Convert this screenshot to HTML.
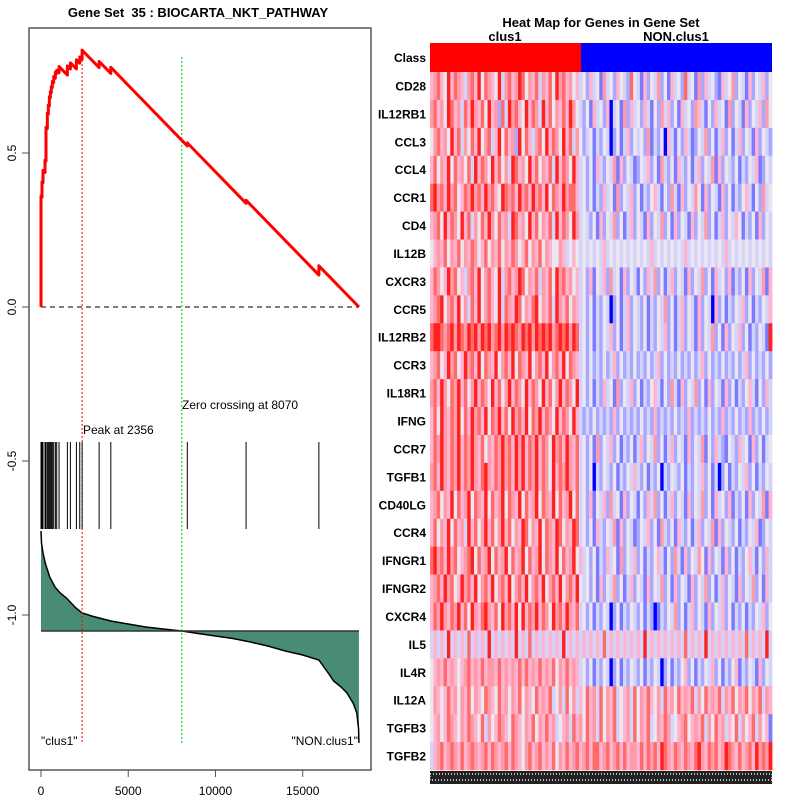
<!DOCTYPE html>
<html><head><meta charset="utf-8">
<style>
body{margin:0;background:#fff;}
svg{display:block;font-family:"Liberation Sans",sans-serif;}
text{white-space:pre;}
</style></head>
<body>
<svg id="chart" width="800" height="800" viewBox="0 0 800 800" xmlns="http://www.w3.org/2000/svg">
<rect width="800" height="800" fill="#fff"/>
<text x="198" y="17" font-size="13" font-weight="bold" text-anchor="middle" xml:space="preserve">Gene Set  35 : BIOCARTA_NKT_PATHWAY</text>
<text x="601" y="27" font-size="13" font-weight="bold" text-anchor="middle">Heat Map for Genes in Gene Set</text>
<text x="505" y="41" font-size="13" font-weight="bold" text-anchor="middle">clus1</text>
<text x="676" y="41" font-size="13" font-weight="bold" text-anchor="middle">NON.clus1</text>
<g id="left"></g>
<g id="heat"></g>
</svg>
<script>
// ---- data ----
const hitRanks = [0,57,115,230,287,364,421,479,536,593,651,727,823,900,1034,1512,1685,2029,2220,2356,3331,4001,8385,11753,15926];
const hitGains = [0.36,0.05,0.04,0.04,0.11,0.05,0.03,0.03,0.02,0.02,0.02,0.02,0.02,0.01,0.02,0.03,0.02,0.03,0.02,0.03,0.02,0.02,0.01,0.01,0.03];
const totalGenes = 18223;
const peakRank = 2356;
const zeroCross = 8070;
const metricRanks = [0,30,115,250,500,800,1100,1455,2000,2356,3000,4000,5000,6000,7000,8070,9000,10000,11000,12000,13000,14000,15000,15926,16500,16770,17200,17537,17900,18100,18200,18223];
const metricValues = [2.0,1.75,1.56,1.35,1.08,0.88,0.76,0.66,0.46,0.36,0.29,0.2,0.14,0.08,0.04,0,-0.05,-0.1,-0.15,-0.22,-0.3,-0.4,-0.48,-0.58,-0.86,-1.0,-1.12,-1.24,-1.45,-1.64,-1.95,-2.24];
const xTicks = [0,5000,10000,15000];
const yTicks = [0.5,0.0,-0.5,-1.0];
const yTickLabels = ["0.5","0.0","-0.5","-1.0"];
const genes = ["CD28","IL12RB1","CCL3","CCL4","CCR1","CD4","IL12B","CXCR3","CCR5","IL12RB2","CCR3","IL18R1","IFNG","CCR7","TGFB1","CD40LG","CCR4","IFNGR1","IFNGR2","CXCR4","IL5","IL4R","IL12A","TGFB3","TGFB2"];
const heatRows = [
"56754857653675847654836756874657365748675645342534163425432743152436241534273416253421534624315243524",
"67564875637586574856273867548576385746575864324153425034162534253142635241534265314253416243152435264",
"46756485736475846735847562847536748576485736423413243024135243426132405314253124362413524135243152432",
"57465847564738576485746387564857465738576485342415324361524312435241632415324135243615243241324351243",
"78675867457686758675487675867586758476586775342413253416243524132453142631524364152431524132453142634",
"56748576485736475864756387564857465738576486343241524362413524315243624152431524362413524354132415243",
"45657465746576457465746576457465746544653454343434353434343434343534343434353434343434353434343434343",
"57645867453675846754836756874657365748675645342514352634152431425362413524315243624153425132415243615",
"56784675846375846754837658746578465738657465342413243024135243241324362413524315243052413243524132435",
"78876786876878687867868787687868787867878687342413243524135243241324352413524315243624152435241324318",
"56745867458675847658467584765846758467584765342423242352423242324235242324232423524232423242352423242",
"67586476857468576485746857648576485746857648342413253416243524132453142631524362415243152413245314253",
"57486576847586758476857486758476857648576485323242323252423232423252323242325232324232523242325232423",
"57686576857686574657686758685768576486758657342416243524132413524362413524315243614253214325341524134",
"67586576857686578657686758685768576485768657342403243241324353241324032432413243524130241324352413243",
"56746584756847658475684765847568476584756847342514352634152431425362413524315243624153425132415243615",
"57465847563857468574685746587465847658746587342415324361524312435241632415324135243615243241324351243",
"78675867456784756847568475684756847658475684534241325341624352413245314263152436415243152413245314253",
"56758674586758467584675846758467584675846758434241524362413524315243624152431524362413524315243624153",
"57686576857486578657486758485768576486758657342413243024132432413201324362413524315243524132413243524",
"35353835353735353835353538353735353535383535353535373535353535383535353535373535383535353535373535383",
"45657565456756575665756565757565756574657565342413243024132432413243024132452413243524132451324315243",
"46545756465746547654756465746547565734637463547563746573456374657546375647565736475657365746574657365",
"45645765465765473645765476546574657563456375647563746573456374657346576345674565736475635473645736451",
"35675676575676567576567576546756756574657567567577567567575665757675876576576578657675687657567586768"
];
const levelColors = ["#0000ff","#7a7aff","#a8a8ff","#d4d4fa","#ece6f0","#ffb3cf","#ff9aa8","#ff6a6a","#ff2020"];

// ---- helpers ----
const NS = "http://www.w3.org/2000/svg";
function mk(tag, attrs, parent){const e=document.createElementNS(NS,tag);for(const k in attrs)e.setAttribute(k,attrs[k]);parent.appendChild(e);return e;}
const X = r => 41 + r * 0.017448;
const Y = v => 307 - v * 308;
const M = m => 631 - m * 50;

const L = document.getElementById('left');
const frame = mk('rect',{x:29,y:28,width:342,height:742,fill:'none',stroke:'#555','stroke-width':1.5},L);



let d = "M"+X(metricRanks[0])+","+M(0);
metricRanks.forEach((r,i)=>{d+=" L"+X(r)+","+M(metricValues[i]);});
d += " L"+X(metricRanks[metricRanks.length-1])+","+M(0)+" Z";
const area = mk('path',{d:d,fill:'#478c73',stroke:'none'},L);


let d2 = "M"+X(metricRanks[0])+","+M(metricValues[0]);
metricRanks.forEach((r,i)=>{d2+=" L"+X(r)+","+M(metricValues[i]);});
const mline = mk('path',{d:d2,fill:'none',stroke:'#000','stroke-width':1.5},L);


const base = mk('line',{x1:X(0),x2:X(totalGenes),y1:M(0),y2:M(0),stroke:'#333','stroke-width':1.5},L);



const zl = mk('line',{x1:X(0),x2:X(totalGenes),y1:Y(0),y2:Y(0),stroke:'#555','stroke-width':1.5,'stroke-dasharray':'5,4'},L);



const pk = mk('line',{x1:X(peakRank),x2:X(peakRank),y1:56,y2:744,stroke:'#ff0000','stroke-width':1,'stroke-dasharray':'2,2'},L);


const zc = mk('line',{x1:X(zeroCross),x2:X(zeroCross),y1:57,y2:744,stroke:'#00cc00','stroke-width':1,'stroke-dasharray':'2,2'},L);



hitRanks.forEach(r=>{
  const h = mk('line',{x1:X(r),x2:X(r),y1:442,y2:529,stroke:'#000','stroke-width':1},L);
  
  
});

const gainSum = hitGains.reduce((a,b)=>a+b,0);
const slope = gainSum / (totalGenes - hitRanks.length);
let es = 0, prev = 0, pts = [[X(0),Y(0)]];
hitRanks.forEach((r,i)=>{
  es -= slope * Math.max(0, r - prev);
  pts.push([X(r),Y(es)]);
  es += hitGains[i];
  pts.push([X(r),Y(es)]);
  prev = r + 1;
});
es -= slope * (totalGenes - prev);
pts.push([X(totalGenes),Y(es)]);
const esl = mk('polyline',{points:pts.map(p=>p.join(',')).join(' '),fill:'none',stroke:'#ff0000','stroke-width':3,'stroke-linejoin':'round'},L);



const t1 = mk('text',{x:83,y:434,'font-size':12},L); t1.textContent='Peak at '+peakRank;


const t2 = mk('text',{x:182,y:409,'font-size':12},L); t2.textContent='Zero crossing at '+zeroCross;


const t3 = mk('text',{x:41,y:745,'font-size':12},L); t3.textContent='"clus1"';


const t4 = mk('text',{x:358,y:745,'font-size':12,'text-anchor':'end'},L); t4.textContent='"NON.clus1"';



xTicks.forEach(v=>{
  const tk = mk('line',{x1:X(v),x2:X(v),y1:770,y2:777,stroke:'#555'},L);
  
  
  const tl = mk('text',{x:X(v),y:795,'font-size':12,'text-anchor':'middle'},L); tl.textContent=v;
  
  
});
yTicks.forEach((v,i)=>{
  const tk = mk('line',{x1:22,x2:29,y1:Y(v),y2:Y(v),stroke:'#555'},L);
  
  
  const tl = mk('text',{x:0,y:0,'font-size':12,'text-anchor':'middle',transform:'translate(16,'+Y(v)+') rotate(-90)'},L); tl.textContent=yTickLabels[i];
  
  
});

// ---- heatmap ----
const H = document.getElementById('heat');
const hx0 = 430, hx1 = 772, classTop = 43, rowTop = 72, rowBot = 770;
const split = 581;
const c1 = mk('rect',{x:hx0,y:classTop,width:split-hx0,height:rowTop-classTop,fill:'#ff0000'},H);


const c2 = mk('rect',{x:split,y:classTop,width:hx1-split,height:rowTop-classTop,fill:'#0000ff'},H);


const cl = mk('text',{x:426,y:62,'font-size':12,'font-weight':'bold','text-anchor':'end'},H); cl.textContent='Class';


const rh = (rowBot-rowTop)/genes.length;
genes.forEach((g,i)=>{
  const row = heatRows[i];
  const cw = (hx1-hx0)/row.length;
  for(let j=0;j<row.length;j++){
    const cell = mk('rect',{x:(hx0+j*cw).toFixed(2),y:(rowTop+i*rh).toFixed(2),width:(cw+0.4).toFixed(2),height:(rh+0.3).toFixed(2),fill:levelColors[+row[j]]},H);
    
    
  }
  const lb = mk('text',{x:426,y:(rowTop+i*rh+rh/2+4.5).toFixed(1),'font-size':12,'font-weight':'bold','text-anchor':'end'},H); lb.textContent=g;
  
  
});
const strip = mk('rect',{x:hx0,y:771,width:hx1-hx0,height:13,fill:'#222'},H);


const stripP = mk('rect',{x:hx0,y:774,width:hx1-hx0,height:6,fill:'none',stroke:'#eee','stroke-width':1.5,'stroke-dasharray':'1,2'},H);


</script>
</body></html>
